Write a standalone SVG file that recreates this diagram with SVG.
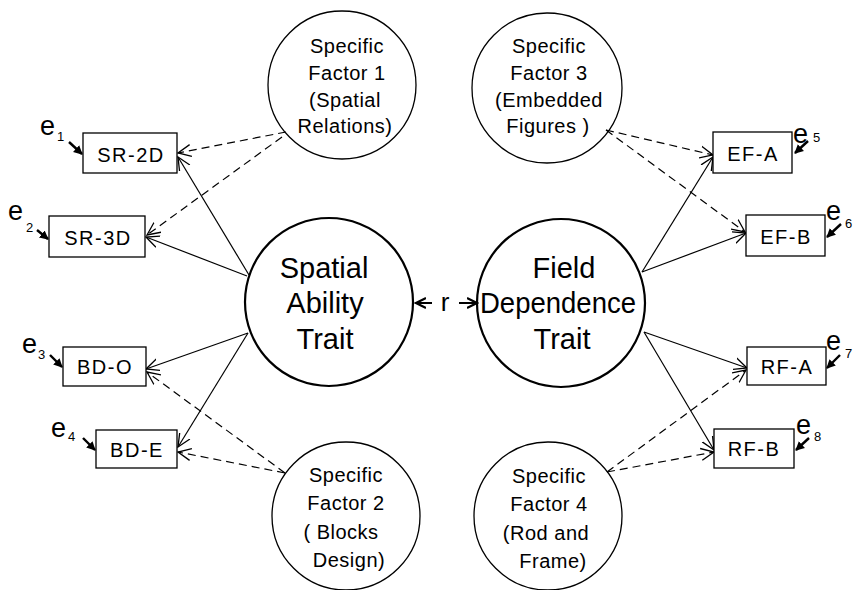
<svg xmlns="http://www.w3.org/2000/svg" width="854" height="590" viewBox="0 0 854 590">
<style>
.big{fill:none;stroke:#000;stroke-width:2.2}
.sf{fill:none;stroke:#000;stroke-width:1.3}
.box{fill:#fff;stroke:#000;stroke-width:1.3}
.t{font-family:"Liberation Sans",Arial,sans-serif;fill:#000;text-anchor:middle}
.bt{font-size:29px}
.st{font-size:20px;letter-spacing:0.5px}
.xt{font-size:20px;letter-spacing:1.5px}
.e{font-family:"Liberation Sans",Arial,sans-serif;fill:#000;font-size:27px}
.sub{font-family:"Liberation Sans",Arial,sans-serif;fill:#000;font-size:13px}
.sol{stroke:#000;stroke-width:1.2;fill:none;marker-end:url(#open)}
.dash{stroke:#000;stroke-width:1.2;fill:none;stroke-dasharray:8 5;marker-end:url(#open)}
.err{stroke:#000;stroke-width:2.4;fill:none;marker-end:url(#fill)}
</style>
<defs>
<marker id="open" markerUnits="userSpaceOnUse" markerWidth="16" markerHeight="14" refX="13" refY="6" orient="auto" viewBox="0 0 16 12">
<path d="M0,0 L13,6 L0,12" fill="none" stroke="#000" stroke-width="1.3"/>
</marker>
<marker id="fill" markerUnits="userSpaceOnUse" markerWidth="10" markerHeight="10" refX="8" refY="4.5" orient="auto" viewBox="0 0 10 9">
<path d="M0,0 L9,4.5 L0,9 Z" fill="#000"/>
</marker>
<marker id="sm" markerUnits="userSpaceOnUse" markerWidth="12" markerHeight="12" refX="10" refY="5" orient="auto" viewBox="0 0 12 10">
<path d="M0,0 L10,5 L0,10" fill="none" stroke="#000" stroke-width="2.2"/>
</marker>
</defs>
<g id="connectors">
<line class="sol" x1="249" y1="275" x2="178" y2="157"/>
<line class="sol" x1="247" y1="276" x2="146" y2="237"/>
<line class="sol" x1="248" y1="333" x2="146" y2="369"/>
<line class="sol" x1="248" y1="333" x2="178" y2="447"/>
<line class="dash" x1="286" y1="132" x2="178" y2="153"/>
<line class="dash" x1="282" y1="137" x2="147" y2="235"/>
<line class="dash" x1="285" y1="473" x2="147" y2="372"/>
<line class="dash" x1="285" y1="473" x2="178" y2="452"/>
<line class="sol" x1="642" y1="272" x2="713" y2="157"/>
<line class="sol" x1="642" y1="272" x2="746" y2="233"/>
<line class="sol" x1="644" y1="332" x2="747" y2="368"/>
<line class="sol" x1="644" y1="332" x2="714" y2="450"/>
<line class="dash" x1="606" y1="130" x2="713" y2="155"/>
<line class="dash" x1="606" y1="130" x2="745" y2="232"/>
<line class="dash" x1="607" y1="472" x2="746" y2="370"/>
<line class="dash" x1="607" y1="472" x2="714" y2="452"/>
<line x1="432" y1="303" x2="416" y2="303" stroke="#000" stroke-width="2" marker-end="url(#sm)"/>
<line x1="459" y1="303" x2="477" y2="303" stroke="#000" stroke-width="2" marker-end="url(#sm)"/>
<text class="t" x="445" y="311" style="font-size:26px">r</text>
<line class="err" x1="69" y1="142" x2="82" y2="154"/>
<line class="err" x1="37" y1="230" x2="48" y2="239"/>
<line class="err" x1="50" y1="355" x2="62" y2="367"/>
<line class="err" x1="83" y1="438" x2="95" y2="450"/>
<line class="err" x1="808" y1="141" x2="795" y2="153"/>
<line class="err" x1="841" y1="224" x2="827" y2="237"/>
<line class="err" x1="840" y1="355" x2="827" y2="368"/>
<line class="err" x1="809" y1="438" x2="796" y2="450"/>
</g>
<g id="errors">
<text class="e" x="40" y="135">e</text><text class="sub" x="57" y="141">1</text>
<text class="e" x="8" y="220">e</text><text class="sub" x="26" y="232">2</text>
<text class="e" x="22" y="353">e</text><text class="sub" x="38" y="359">3</text>
<text class="e" x="51" y="437">e</text><text class="sub" x="68" y="441">4</text>
<text class="e" x="793" y="143">e</text><text class="sub" x="813" y="142">5</text>
<text class="e" x="826" y="220">e</text><text class="sub" x="845" y="228">6</text>
<text class="e" x="826" y="350">e</text><text class="sub" x="845" y="358">7</text>
<text class="e" x="796" y="434">e</text><text class="sub" x="814" y="441">8</text>
</g>
<g id="sf1">
<circle class="sf" cx="342" cy="85" r="74"/>
<text class="t st" x="347" y="53">Specific</text>
<text class="t st" x="347" y="80">Factor 1</text>
<text class="t st" x="345" y="107">(Spatial</text>
<text class="t st" x="345" y="133">Relations)</text>
</g>
<g id="sf3">
<circle class="sf" cx="547" cy="88" r="75"/>
<text class="t st" x="549" y="53">Specific</text>
<text class="t st" x="549" y="80">Factor 3</text>
<text class="t st" x="549" y="107">(Embedded</text>
<text class="t st" x="548" y="133">Figures )</text>
</g>
<g id="sf2">
<circle class="sf" cx="346" cy="516" r="74"/>
<text class="t st" x="346" y="482">Specific</text>
<text class="t st" x="346" y="510">Factor 2</text>
<text class="t st" x="341" y="539">( Blocks</text>
<text class="t st" x="349" y="567">Design)</text>
</g>
<g id="sf4">
<circle class="sf" cx="548" cy="516" r="74"/>
<text class="t st" x="549" y="483">Specific</text>
<text class="t st" x="549" y="511">Factor 4</text>
<text class="t st" x="546" y="540">(Rod and</text>
<text class="t st" x="553" y="568">Frame)</text>
</g>
<g id="spatial">
<circle class="big" cx="329" cy="302" r="84"/>
<text class="t bt" x="324" y="278">Spatial</text>
<text class="t bt" x="325" y="313">Ability</text>
<text class="t bt" x="325" y="349">Trait</text>
</g>
<g id="field">
<circle class="big" cx="561" cy="303" r="84"/>
<text class="t bt" x="564" y="278">Field</text>
<text class="t bt" x="558" y="313" textLength="156" lengthAdjust="spacingAndGlyphs">Dependence</text>
<text class="t bt" x="562" y="349">Trait</text>
</g>
<g id="sr2d"><rect class="box" x="83" y="133" width="94" height="40"/><text class="t xt" x="131" y="162">SR-2D</text></g>
<g id="sr3d"><rect class="box" x="49" y="216" width="96" height="41"/><text class="t xt" x="98" y="245">SR-3D</text></g>
<g id="bdo"><rect class="box" x="63" y="347" width="83" height="39"/><text class="t xt" x="105" y="374">BD-O</text></g>
<g id="bde"><rect class="box" x="96" y="430" width="81" height="38"/><text class="t xt" x="137" y="457">BD-E</text></g>
<g id="efa"><rect class="box" x="713" y="132" width="79" height="41"/><text class="t xt" x="753" y="161">EF-A</text></g>
<g id="efb"><rect class="box" x="746" y="215" width="79" height="41"/><text class="t xt" x="786" y="244">EF-B</text></g>
<g id="rfa"><rect class="box" x="747" y="347" width="79" height="38"/><text class="t xt" x="787" y="374">RF-A</text></g>
<g id="rfb"><rect class="box" x="714" y="429" width="80" height="39"/><text class="t xt" x="754" y="456">RF-B</text></g>
</svg>
